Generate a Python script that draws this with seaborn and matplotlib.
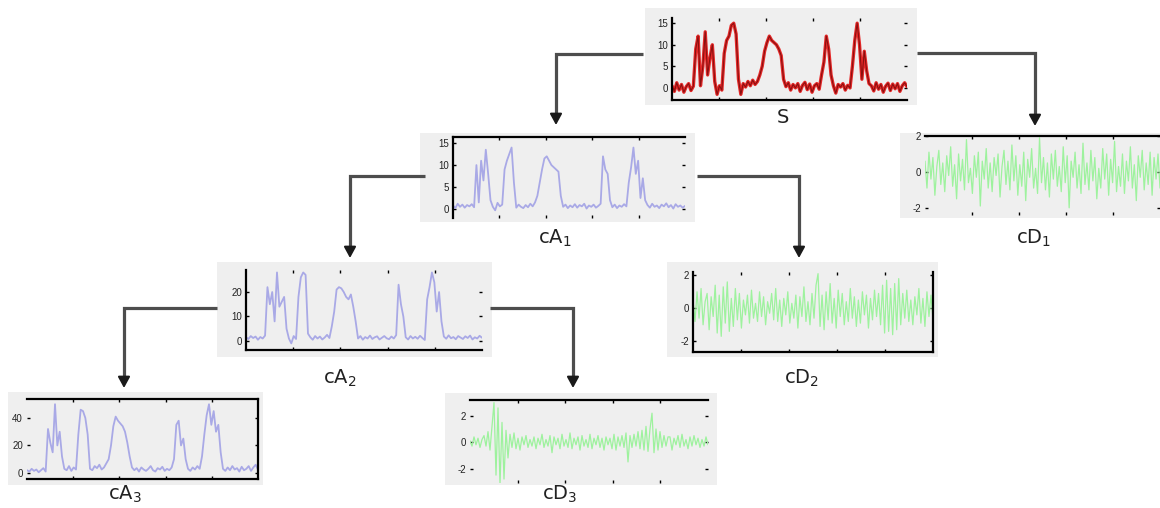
import numpy as np
import matplotlib
matplotlib.use('Agg')
import matplotlib.pyplot as plt
from matplotlib.patches import Rectangle
import seaborn as sns

# ---------------- data ----------------
S = [0.5, -0.8, 1.2, -0.5, 0.8, -1.0, 0.3, 1.0, -0.6, 0.4,
     9.0, 12.0, 0.5, 5.0, 13.0, 3.0, 7.0, 10.0,
     1.5, -1.5, 0.5, -0.5,
     8.0, 11.0, 12.0, 14.5, 15.0, 12.5,
     2.0, -1.5, 1.0, 0.2, 1.5, 0.5, 1.8, 0.8, 1.5,
     3.0, 5.0, 8.5, 10.5, 12.0, 11.0, 10.5, 10.0, 9.0, 7.5,
     2.0, 0.3, 1.2, -0.5, 0.8, 0.0, 1.0, -0.8, 0.6, 1.3, -0.4, 0.9, -1.0, 0.5, 1.0, -0.3, 3.0,
     6.0, 12.0, 9.0, 3.0, 0.5,
     -1.2, 0.8, 0.2, 1.0, -0.5, 0.6, 0.0,
     5.0, 11.0, 15.0, 10.0, 2.0, 8.5, 4.0, 1.0,
     0.5, -0.7, 1.2, -0.3, 0.8, -1.0, 0.4, 1.1, -0.6, 0.9, -0.2, 1.0, -0.8, 0.5, 1.2, 0.3]

cA1 = [0.8, 0.2, 1.2, 0.5, 1.0, 0.3, 0.9, 0.6, 1.1, 0.4,
       10.0, 1.5, 11.0, 6.5, 13.5, 8.0, 2.0,
       0.5, -0.3, 1.4, 0.6, 1.0,
       9.0, 11.0, 12.5, 14.0, 6.0,
       0.3, 1.0, 0.5, 0.2, 0.9, 0.4, 1.2, 0.6, 1.5,
       3.0, 6.0,
       9.0, 11.5, 12.0, 11.0, 10.0, 9.5, 9.0, 8.5,
       3.0, 0.5, 1.0, 0.2, 0.8, 0.4, 1.1, 0.3, 0.9, 0.6, 1.2, 0.1, 0.8, 0.5, 1.0, 0.3, 0.7, 1.2,
       12.0, 9.0, 8.0, 2.0,
       0.4, 1.0, 0.2, 0.8, 0.5, 1.1, 0.6,
       6.0, 9.5, 14.0, 8.0, 11.0, 2.5, 7.0, 2.0,
       0.9, 0.3, 1.2, 0.5, 0.8, 0.2, 1.0, 0.6, 1.3, 0.4, 0.9, 0.1, 1.1, 0.5, 0.8, 0.3, 0.7]

cA2 = [1.5, 0.8, 2.0, 1.2, 1.8, 0.5, 1.6, 1.0, 2.2,
       22.0, 15.0, 20.0, 8.0, 28.0, 14.0, 16.0, 18.0,
       5.0,
       1.0, -1.0, 2.0, 0.8,
       18.0, 26.0, 28.0, 27.0,
       3.0,
       1.5, 0.5, 2.0, 1.0, 1.8, 0.6, 1.4, 2.5, 1.2,
       6.0, 12.0,
       21.0, 22.0, 21.5, 20.0, 18.0, 17.0, 19.0,
       14.0, 8.0,
       1.0, 2.0, 0.5, 1.6, 1.0, 2.2, 0.8, 1.5, 1.9, 0.6, 1.3, 2.0, 1.1, 0.7, 1.8, 1.0, 2.4,
       23.0, 15.0, 10.0,
       1.5, 0.6, 2.0, 1.0, 1.7, 0.9, 2.1, 1.2, 0.4,
       17.0, 22.0, 28.0, 24.0, 12.0, 20.0, 8.0,
       1.8, 0.9, 2.3, 1.1, 1.6, 0.7, 2.0, 1.4, 0.8, 1.9, 1.2, 2.2, 0.6, 1.5, 1.0, 2.1, 1.3]

cA3 = [2.0, 1.0, 3.0, 1.5, 2.5, 0.5, 2.0, 3.5, 1.0,
       32.0, 22.0, 15.0, 50.0, 20.0, 30.0, 12.0,
       3.0, 2.0, 5.0, 1.5, 4.0, 2.5,
       28.0, 46.0, 45.0, 40.0, 28.0,
       3.0, 2.0, 5.0, 3.5, 6.0, 2.5, 4.0, 7.0, 10.0,
       20.0, 34.0, 41.0, 38.0, 36.0, 34.0, 30.0, 22.0,
       12.0, 4.0,
       2.0, 3.5, 1.0, 4.0, 2.5, 1.5, 3.0, 5.0, 2.0, 1.0, 3.5, 2.5, 4.5, 1.5, 3.0, 2.0, 4.0,
       10.0, 35.0, 38.0, 20.0, 25.0,
       10.0,
       3.0, 1.5, 4.0, 2.5, 5.0, 3.0,
       12.0, 28.0, 42.0, 50.0, 35.0, 45.0, 30.0, 35.0,
       15.0,
       3.0, 1.5, 4.0, 2.0, 5.0, 2.5, 3.5, 1.0, 4.5, 2.0, 3.0, 5.0, 1.5, 4.0, 6.0, 2.5]

cD1 = [0.6, -0.9, 1.1, -0.4, 0.8, -1.3, 0.3, 1.2, -0.7, 0.5, -1.1, 0.9, -0.2, 1.4, -0.8, 0.4, -1.5, 1.0, -0.5, 0.7,
       -1.0, 1.8, -0.6, 0.2, -1.2, 0.9, -0.3, 1.1, -1.9, 0.6, -0.4, 1.3, -0.9, 0.5, -1.1, 0.8, -0.2, 1.0, -1.4, 0.3,
       1.2, -0.7, 0.6, -1.0, 1.5, -0.5, 0.9, -1.3, 0.4, -0.8, 1.1, -1.6, 0.7, -0.3, 1.3, -0.9, 0.2, -1.2, 1.9, -0.6,
       0.8, -1.0, 0.5, -1.4, 1.0, -0.4, 1.2, -0.8, 0.3, -1.1, 1.4, -0.6, 0.9, -2.0, 0.6, -0.3, 1.1, -0.9, 0.4, -1.2,
       1.6, -0.7, 0.5, -1.0, 1.2, -0.5, 0.8, -1.5, 0.2, -0.9, 1.3, -0.4, 1.0, -1.3, 0.7, -0.6, 1.7, -1.1, 0.3, -0.8,
       1.0, -1.2, 0.6, -0.5, 1.4, -0.9, 0.4, -1.6, 0.9, -0.3, 1.2, -1.0, 0.5, -0.7, 1.1, -1.3, 0.8, -0.4, 1.0, -0.9]

cD2 = [0.5, -0.8, 1.0, -0.6, 1.2, -1.0, 0.4, 0.9, -1.3, 0.7, -0.5, 1.4, -1.5, 0.8, -1.7, 1.3, -0.9, 1.6, -1.4, 0.6,
       -1.1, 1.2, -0.7, 0.9, -1.2, 0.5, -0.4, 0.8, -0.9, 1.1, -0.6, 0.3, -0.8, 1.0, -0.5, 0.7, -1.0, 0.4, -0.3, 0.9,
       -0.7, 1.2, -0.8, 0.5, -1.1, 0.6, -0.4, 1.0, -0.9, 0.3, -0.6, 0.8, -1.2, 0.7, -0.5, 1.3, -0.8, 0.4, -1.0, 0.9,
       -0.6, 1.4, 2.1, -1.1, 0.8, -1.3, 1.0, -0.7, 1.5, -0.9, 0.6, -1.2, 1.1, -0.5, 0.9, -1.0, 0.4, -0.8, 1.2, -0.6,
       0.7, -1.1, 0.5, -0.9, 1.0, -0.4, 0.8, -1.2, 0.6, -0.7, 1.1, -0.5, 0.9, -1.0, 1.4, -1.5, 1.7, -1.4, 1.2, -1.6,
       1.5, -1.3, 1.8, -1.0, 0.9, -0.6, 1.1, -0.8, 0.5, -1.0, 0.7, -0.4, 1.2, -0.9, 0.6, -1.1, 1.0, -0.5, 0.8, -0.7]

cD3 = [0.1, -0.3, 0.4, -0.2, 0.3, -0.4, 0.2, 0.5, -0.3, 0.8, -0.6, 1.2, 3.0, -2.5, 2.6, -3.2, 1.5, -2.8, 0.9, -1.2,
       0.6, -0.4, 0.7, -0.5, 0.3, -0.6, 0.4, -0.2, 0.5, -0.4, 0.2, -0.3, 0.4, -0.5, 0.3, -0.2, 0.6, -0.4, 0.2, -0.3,
       0.5, -0.8, 0.4, -0.2, 0.3, -0.5, 0.6, -0.3, 0.2, -0.4, 0.7, -0.5, 0.3, -0.2, 0.4, -0.6, 0.5, -0.3, 0.2, -0.4,
       0.6, -0.5, 0.3, -0.2, 0.5, -0.4, 0.3, -0.6, 0.4, -0.2, 0.3, -0.5, 0.6, -0.6, 0.4, -0.3, 0.5, -0.4, 0.7, -1.5,
       0.5, -0.4, 0.6, -0.3, 0.8, -0.5, 0.9, -0.6, 1.2, -0.7, 1.0, 2.2, -0.8, 1.0, -0.6, 0.8, -0.4, 0.5, -0.3, 0.4,
       0.4, -0.6, 0.3, -0.2, 0.5, -0.4, 0.6, -0.3, 0.2, -0.5, 0.4, -0.3, 0.5, -0.2, 0.3, -0.4, 0.2, -0.3, 0.4, -0.2]

names = ["S", "cA$_1$", "cD$_1$", "cA$_2$", "cD$_2$", "cA$_3$", "cD$_3$"]
ytick_S = [0, 5, 10, 15]
ytick_A2 = [0, 10, 20]
ytick_A3 = [0, 20, 40]
ytick_D = [-2, 0, 2]

RED, PURPLE, GREEN = "#e41212", "#a9a9e6", "#9ef29e"
W, H = 1160, 508

sns.set_theme(style="white")
plt.rcParams['font.family'] = ['Liberation Sans', 'DejaVu Sans']
plt.rcParams['mathtext.fontset'] = 'dejavusans'

fig = plt.figure(figsize=(W / 100, H / 100), dpi=100)
fig.patch.set_facecolor('white')
ov = fig.add_axes([0, 0, 1, 1], zorder=0)
ov.set_xlim(0, W)
ov.set_ylim(H, 0)
ov.axis('off')

panels = [
    # data, color, lw, axes px (x0,y0,x1,y1), bg px, ylim, yticks, spines, label, label pos
    (S, RED, 2.4, (672, 18, 907, 100), (645, 8, 917, 105), (-2.8, 16.2), ytick_S, ('left', 'bottom'), names[0], (783, 123)),
    (cA1, PURPLE, 1.3, (453, 137, 685, 218), (420, 133, 695, 222), (-2.05, 16.4), ytick_S, ('left', 'top'), names[1], (555, 244)),
    (cD1, GREEN, 0.9, (925, 136, 1160, 215), (900, 133, 1160, 218), (-2.4, 2.0), ytick_D, ('top',), names[2], (1034, 244)),
    (cA2, PURPLE, 1.3, (246, 270, 482, 350), (217, 262, 492, 357), (-3.7, 29.0), ytick_A2, ('left', 'bottom'), names[3], (340, 384)),
    (cD2, GREEN, 0.9, (693, 272, 933, 352), (667, 262, 938, 357), (-2.65, 2.2), ytick_D, ('left', 'bottom', 'right'), names[4], (802, 384)),
    (cA3, PURPLE, 1.3, (27, 399, 258, 479), (8, 392, 263, 485), (-4.4, 53.8), ytick_A3, ('top', 'bottom', 'right'), names[5], (125, 500)),
    (cD3, GREEN, 0.9, (470, 400, 708, 483), (445, 393, 717, 485), (-3.1, 3.2), ytick_D, ('top',), names[6], (560, 500)),
]

for data, color, lw, (x0, y0, x1, y1), (bx0, by0, bx1, by1), ylim, yt, spines, label, (lx, ly) in panels:
    ov.add_patch(Rectangle((bx0, by0), bx1 - bx0, by1 - by0, facecolor='#efefef', edgecolor='none'))
    ax = fig.add_axes([x0 / W, 1 - y1 / H, (x1 - x0) / W, (y1 - y0) / H], zorder=2)
    ax.patch.set_alpha(0)
    x = np.arange(len(data))
    if color == RED:
        sns.lineplot(x=x, y=data, ax=ax, color=color, lw=lw, alpha=0.9)
        sns.lineplot(x=x, y=data, ax=ax, color='#8a1010', lw=0.8)
    else:
        sns.lineplot(x=x, y=data, ax=ax, color=color, lw=lw)
    ax.set_xlim(0, len(data) - 1)
    ax.set_ylim(*ylim)
    ax.set_yticks(yt)
    ax.set_yticklabels([str(v) for v in yt])
    ax.set_xticks(np.linspace(0, len(data) - 1, 6)[1:-1])
    ax.set_xlabel('')
    ax.set_ylabel('')
    ax.tick_params(axis='both', direction='in', length=2, width=1, color='black',
                   labelsize=7, pad=3, labelcolor='#222222',
                   top=True, bottom=True, left=True, right=True, labelbottom=False)
    for s in ['left', 'right', 'top', 'bottom']:
        ax.spines[s].set_visible(s in spines)
        ax.spines[s].set_color('black')
        ax.spines[s].set_linewidth(1.6)
    ov.text(lx, ly, label, ha='center', va='baseline', fontsize=14,
            color='#222222', family='DejaVu Sans')

# connecting arrows of the decomposition tree
arrows = [
    (643, 54, 556, 125),
    (917, 53, 1035, 126),
    (425, 176, 350, 258),
    (697, 176, 799, 258),
    (217, 308, 124, 388),
    (490, 308, 573, 388),
]
for xs, y, xc, tip in arrows:
    ov.plot([xs, xc, xc], [y, y, tip - 8], color='#4d4d4d', lw=2.3,
            solid_joinstyle='miter', solid_capstyle='butt')
    ov.annotate('', xy=(xc, tip), xytext=(xc, tip - 11),
                arrowprops=dict(arrowstyle='-|>,head_length=0.55,head_width=0.3',
                                color='#1a1a1a', lw=1.5, shrinkA=0, shrinkB=0))

fig.savefig('out.png', dpi=100, facecolor='white')
